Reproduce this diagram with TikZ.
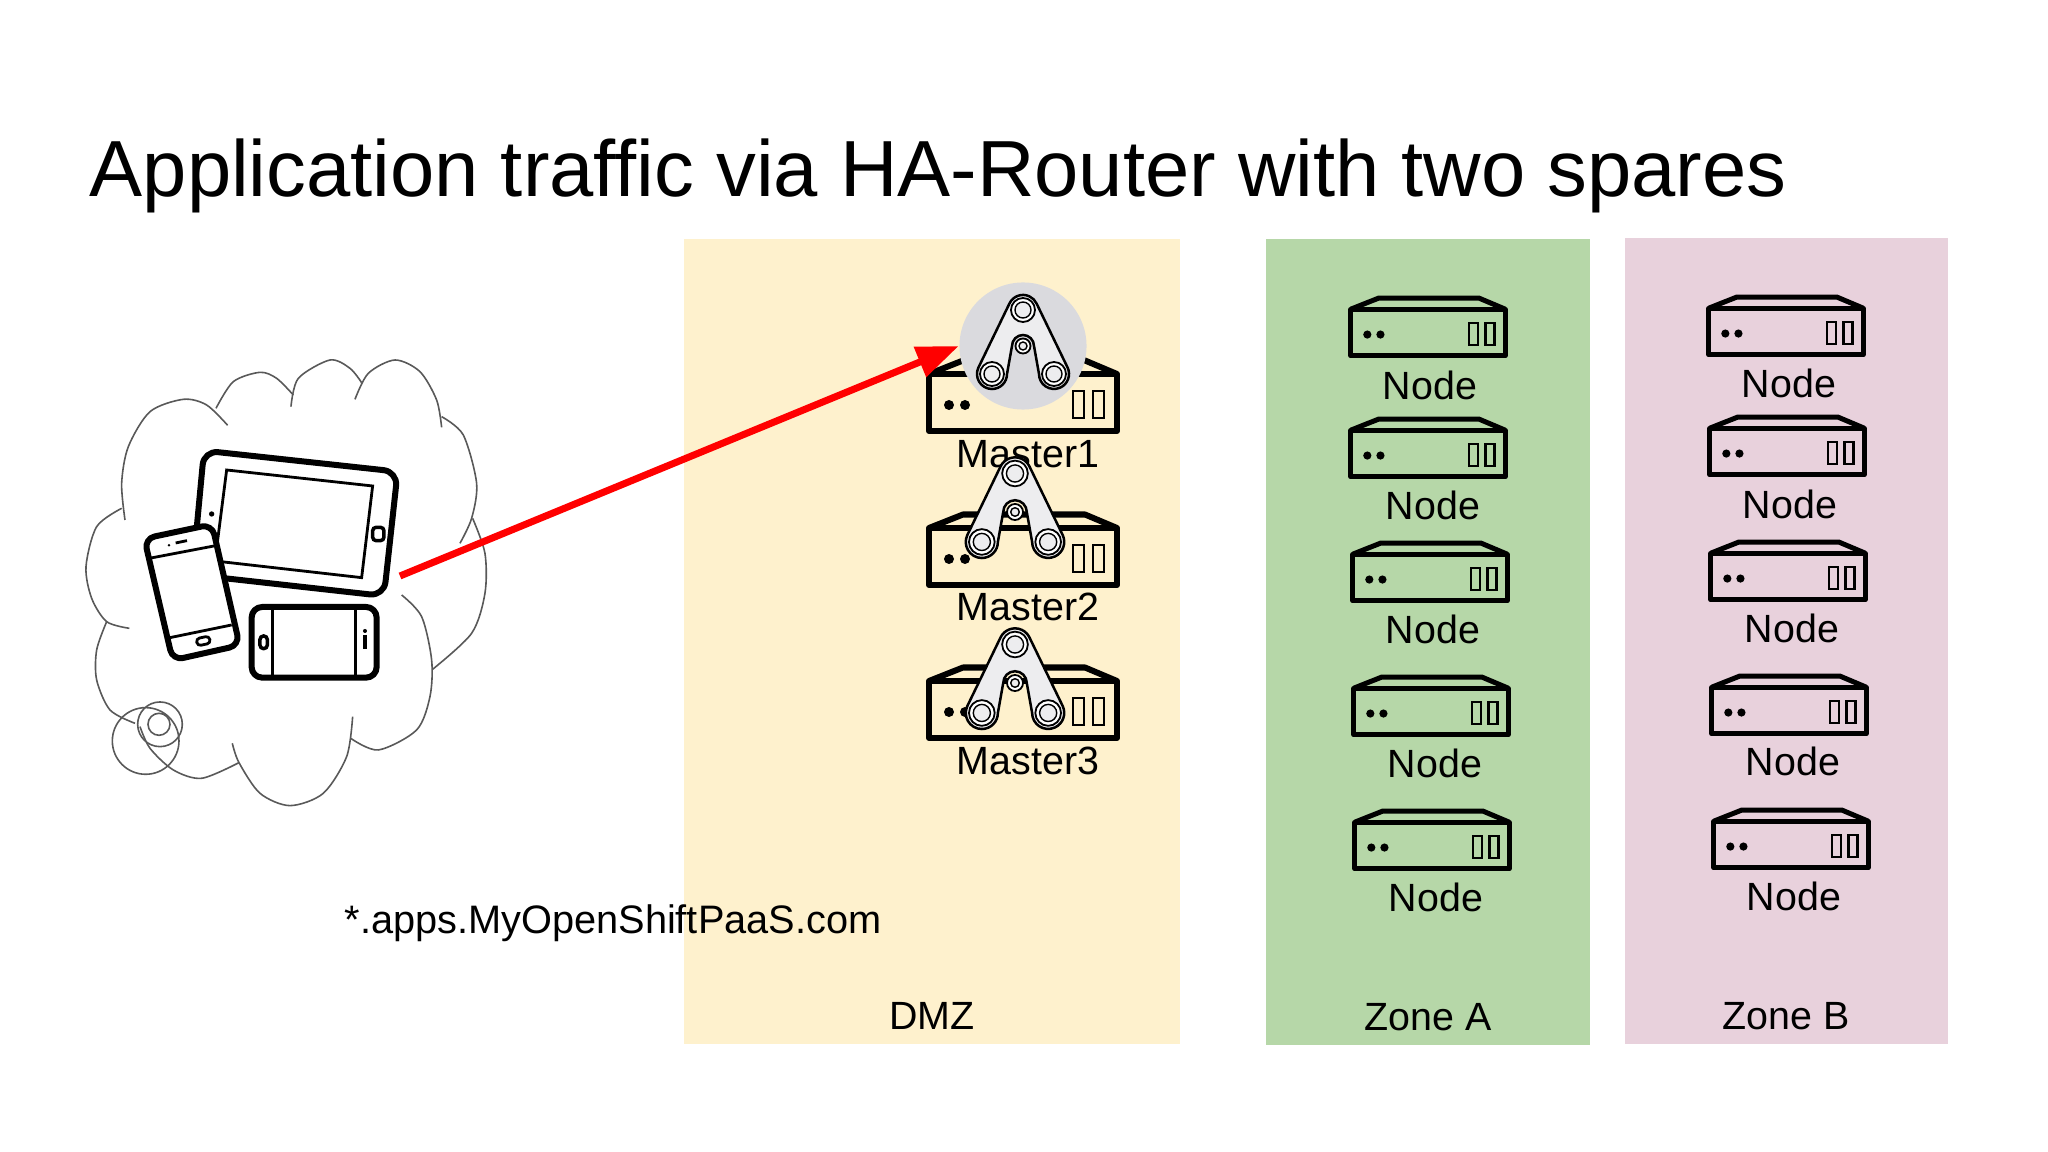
\documentclass[tikz,border=0pt]{standalone}
\usepackage{fontspec}
\setmainfont{Liberation Sans}
\usepackage{xcolor}
\usetikzlibrary{arrows.meta,shapes.geometric}
\definecolor{dmzfill}{HTML}{FEF1CD}
\definecolor{zoneafill}{HTML}{B6D7A8}
\definecolor{zonebfill}{HTML}{E8D1DC}
\definecolor{halogrey}{HTML}{DADADE}
\definecolor{routergrey}{HTML}{EDEDEF}
\definecolor{cloudgrey}{HTML}{595959}
\newcommand{\labelfont}{\fontsize{11.2}{13}\selectfont}
\tikzset{
    panellabel/.style={font=\labelfont, text=black, inner sep=0pt},
    cloudline/.style={draw=cloudgrey, line width=0.016cm},
    devicebold/.style={draw=black, line width=0.06cm, line join=round},
    devicethin/.style={draw=black, line width=0.028cm},
    trafficarrow/.style={draw=red, line width=0.07cm, -{Triangle[length=0.42cm,width=0.31cm]}},
    pics/serverbox/.style={code={
        \draw[line join=round] (-94,16) rectangle (94,73);
        \draw[line join=round] (-94,16) -- (-60,2.5) -- (62,2.5) -- (94,16);
        \fill (-74,47) circle[radius=0.05cm];
        \fill (-58,47) circle[radius=0.05cm];
        \draw[line width=0.025cm] (50,33) rectangle (61,60);
        \draw[line width=0.025cm] (70,33) rectangle (81,60);
    }},
    pics/routerlogo/.style={code={
        \draw[line width=0.025cm, left color=routergrey, middle color=white, right color=routergrey, shading angle=60]
            (-13.6,-42.4) arc[start angle=155, end angle=25, radius=0.15cm]
            -- (44.6,21.6) arc[start angle=25, end angle=-180, radius=0.15cm]
            -- (11,0) arc[start angle=0, end angle=180, radius=0.11cm]
            -- (-16,28) arc[start angle=0, end angle=-205, radius=0.15cm] -- cycle;
        \foreach \lx/\ly in {0/-36, -31/28, 31/28} {
            \draw[line width=0.018cm, fill=white] (\lx,\ly) circle[radius=0.12cm];
            \draw[line width=0.014cm, fill=routergrey] (\lx,\ly) circle[radius=0.08cm];
        }
        \draw[line width=0.018cm, fill=white] (0,0) circle[radius=0.075cm];
        \draw[line width=0.014cm, fill=routergrey] (0,0) circle[radius=0.04cm];
    }}
}

\begin{document}
\begin{tikzpicture}[x=0.01cm, y=-0.01cm]
    \useasboundingbox (0,0) rectangle (2048,1152);

    % Title
    \node[anchor=base west, inner sep=0pt, font=\fontsize{22.63}{26}\selectfont] (title) at (89,197) {Application traffic via HA-Router with two spares};

    % Panels
    \fill[dmzfill] (684,239) rectangle (1180,1044);
    \fill[zoneafill] (1266,239) rectangle (1590,1045);
    \fill[zonebfill] (1625,238) rectangle (1948,1044);
    \node[panellabel] (dmzlabel) at (932,1016) {DMZ};
    \node[panellabel] (zonealabel) at (1428,1017) {Zone A};
    \node[panellabel] (zoneblabel) at (1786,1016) {Zone B};

    % Cloud
    \begin{scope}[shift={(60,340)}, scale=0.3333]
        \draw[cloudline] plot[smooth] coordinates {(195,540) (185,430) (205,320) (270,215) (370,178) (440,195) (503,256)};
        \draw[cloudline] plot[smooth] coordinates {(468,205) (520,125) (600,97) (650,115) (700,165)};
        \draw[cloudline] plot[smooth] coordinates {(693,200) (715,115) (810,60) (870,85) (905,128)};
        \draw[cloudline] plot[smooth] coordinates {(885,178) (925,100) (1005,60) (1080,95) (1130,180) (1145,262)};
        \draw[cloudline] plot[smooth] coordinates {(1145,230) (1210,285) (1250,430) (1235,535) (1200,610)};
        \draw[cloudline] plot[smooth] coordinates {(1238,535) (1275,640) (1275,760) (1235,880) (1118,988)};
        \draw[cloudline] plot[smooth] coordinates {(1025,765) (1085,830) (1115,960) (1110,1070) (1070,1170) (955,1230) (872,1195)};
        \draw[cloudline] plot[smooth] coordinates {(878,1130) (860,1250) (790,1360) (690,1397) (600,1360) (537,1268) (517,1210)};
        \draw[cloudline] plot[smooth] coordinates {(537,1268) (425,1315) (340,1290) (270,1225) (240,1160)};
        \draw[cloudline] plot[smooth] coordinates {(225,1150) (150,1110) (110,1020) (110,930) (140,845)};
        \draw[cloudline] plot[smooth] coordinates {(185,505) (110,560) (78,680) (95,775) (140,845) (208,865)};
        \draw[cloudline] (297,1153) circle[radius=33];
        \draw[cloudline] (300,1153) circle[radius=67];
        \draw[cloudline] (257,1203) circle[radius=100];

        % Tablet
        \draw[devicebold, rounded corners=4pt] (432,332) -- (1013,395) -- (972,768) -- (397,704) -- cycle;
        \draw[devicethin] (500,390) -- (938,438) -- (905,713) -- (465,663) -- cycle;
        \fill (455,522) circle[radius=8];
        \draw[devicethin, rounded corners=1pt, line width=0.035cm] (938,562) rectangle (972,602);

        % Phone, upright
        \draw[devicebold, fill=white, rounded corners=3pt] (253,596) -- (456,553) -- (539,916) -- (338,961) -- cycle;
        \draw[devicethin] (268,655) -- (462,618);
        \draw[devicethin] (330,893) -- (515,855);
        \draw[devicethin] (347,609) -- (381,602);
        \fill (327,616) circle[radius=4];
        \draw[devicethin, rounded corners=1pt, rotate around={12:(430,903)}] (410,892) rectangle (450,914);

        % Phone, on its side
        \draw[devicebold, rounded corners=3pt] (575,801) rectangle (950,1013);
        \draw[devicethin] (637,801) -- (637,1013);
        \draw[devicethin] (887,801) -- (887,1013);
        \draw[devicethin, rounded corners=1pt, line width=0.035cm] (600,888) rectangle (622,926);
        \fill (915,873) circle[radius=6];
        \draw[devicethin, line width=0.035cm] (915,885) -- (915,928);
    \end{scope}
    \coordinate (client) at (400,576);

    % Masters
    \foreach \i/\sy/\ly in {1/358/454, 2/512/607, 3/665/761} {
        \pic[line width=0.06cm] (master\i) at (1023,\sy) {serverbox};
        \node[panellabel] (masterlabel\i) at (1028,\ly) {Master\i};
    }
    \node[circle, fill=halogrey, minimum size=1.27cm, inner sep=0pt] (routerhalo) at (1023,346) {};
    \pic (router1) at (1023,346) {routerlogo};
    \pic[scale=1.07] (router2) at (1015,512) {routerlogo};
    \pic[scale=1.07] (router3) at (1015,683) {routerlogo};

    % Zone A nodes
    \foreach \i/\sx/\sy/\lx/\ly in {1/1428/296/1430/385, 2/1428/417/1433/505, 3/1430/541/1433/629, 4/1431/675/1435/763, 5/1432/809/1436/897} {
        \pic[scale=0.82, line width=0.05cm] (nodea\i) at (\sx,\sy) {serverbox};
        \node[panellabel] (nodealabel\i) at (\lx,\ly) {Node};
    }

    % Zone B nodes
    \foreach \i/\sx/\sy/\lx/\ly in {1/1786/295/1789/383, 2/1787/415/1790/504, 3/1788/540/1792/628, 4/1789/674/1793/761, 5/1791/808/1794/896} {
        \pic[scale=0.82, line width=0.05cm] (nodeb\i) at (\sx,\sy) {serverbox};
        \node[panellabel] (nodeblabel\i) at (\lx,\ly) {Node};
    }

    % Wildcard domain and traffic
    \node[panellabel, font=\fontsize{11.3}{13}\selectfont] (wildcard) at (613,923) {*.apps.MyOpenShiftPaaS.com};
    \draw[trafficarrow] (client) -- (routerhalo.west);
\end{tikzpicture}
\end{document}
